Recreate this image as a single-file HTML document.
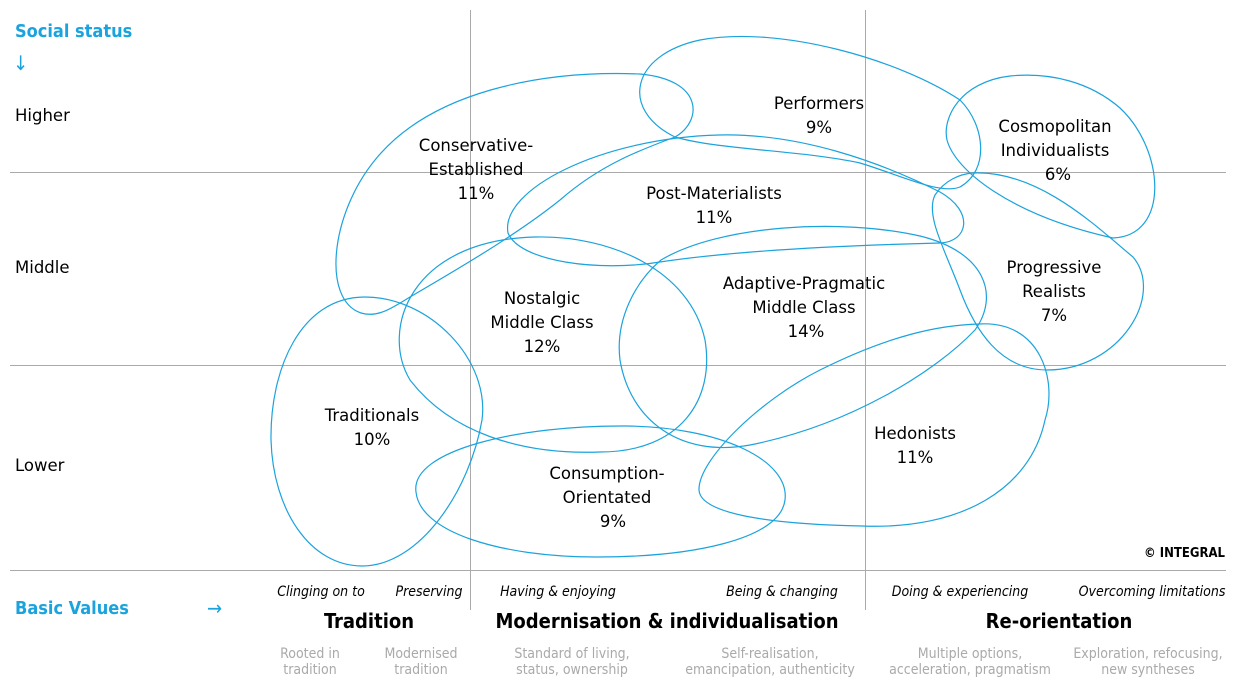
<!DOCTYPE html>
<html><head><meta charset="utf-8"><style>
html,body{margin:0;padding:0;background:#fff;}
svg{display:block;font-family:"DejaVu Sans Condensed","Liberation Sans",sans-serif;}
.n{font-family:"DejaVu Sans","Liberation Sans",sans-serif;}
</style></head><body>
<svg width="1256" height="682" viewBox="0 0 1256 682" xmlns="http://www.w3.org/2000/svg">
<g stroke="#aaa" stroke-width="1">
<line x1="10" y1="172.5" x2="1226" y2="172.5"/>
<line x1="10" y1="365.5" x2="1226" y2="365.5"/>
<line x1="10" y1="570.5" x2="1226" y2="570.5"/>
<line x1="470.5" y1="10" x2="470.5" y2="610"/>
<line x1="865.5" y1="10" x2="865.5" y2="610"/>
</g>
<g fill="none" stroke="#1ba3dd" stroke-width="1.2">
<path d="M675,137 C702,122 705,80 640,74 C540,70 430,92 375,160 C330,215 322,300 361,313 C378,318 392,308 410,297 C470,262 520,232 560,200 C600,165 640,150 675,137 Z"/>
<path d="M675,137 C620,110 630,55 700,40 C780,25 900,60 960,100 C985,125 990,170 960,187 C940,195 900,175 860,163 C800,150 720,150 675,137 Z"/>
<path d="M1113,238 C1170,236 1165,150 1120,108 C1090,82 1050,72 1010,76 C960,82 942,118 947,140 C955,170 1010,215 1113,238 Z"/>
<path d="M508,233 C500,190 600,138 719,135 C800,133 880,162 940,192 C975,212 968,242 940,243 C860,245 740,250 660,262 C600,272 520,262 508,233 Z"/>
<path d="M973,173 C1040,170 1100,230 1133,257 C1165,295 1120,370 1047,370 C1000,370 975,330 960,290 C945,250 925,215 935,195 C945,180 960,174 973,173 Z"/>
<path d="M661,260 C720,225 840,218 920,236 C985,252 1000,295 975,330 C935,372 850,425 750,445 C680,458 630,420 620,360 C615,320 635,282 661,260 Z"/>
<path d="M535,237 C610,235 690,270 705,340 C715,400 680,452 600,452 C520,455 450,432 410,380 C380,330 410,240 535,237 Z"/>
<path d="M365,297 C300,297 270,370 271,440 C273,510 310,566 362,566 C420,566 470,490 482,420 C490,360 430,297 365,297 Z"/>
<path d="M416,492 C410,450 520,425 627,426 C720,427 790,460 785,500 C780,540 690,557 597,557 C500,557 420,532 416,492 Z"/>
<path d="M979,324 C1040,320 1058,380 1045,420 C1030,490 960,530 862,526 C760,524 700,512 699,490 C698,460 760,400 820,370 C890,335 940,325 979,324 Z"/>
</g>
<g class="n" font-size="16.5" fill="#000" text-anchor="middle">
<text x="476" y="151">Conservative-</text><text x="476" y="175">Established</text><text x="476" y="199">11%</text>
<text x="819" y="109">Performers</text><text x="819" y="133">9%</text>
<text x="1055" y="132">Cosmopolitan</text><text x="1055" y="156">Individualists</text><text x="1058" y="180">6%</text>
<text x="714" y="199">Post-Materialists</text><text x="714" y="223">11%</text>
<text x="1054" y="273">Progressive</text><text x="1054" y="297">Realists</text><text x="1054" y="321">7%</text>
<text x="804" y="289">Adaptive-Pragmatic</text><text x="804" y="313">Middle Class</text><text x="806" y="337">14%</text>
<text x="542" y="304">Nostalgic</text><text x="542" y="328">Middle Class</text><text x="542" y="352">12%</text>
<text x="372" y="421">Traditionals</text><text x="372" y="445">10%</text>
<text x="607" y="479">Consumption-</text><text x="607" y="503">Orientated</text><text x="613" y="527">9%</text>
<text x="915" y="439">Hedonists</text><text x="915" y="463">11%</text>
</g>
<g class="n" font-size="16.5" fill="#000">
<text x="15" y="121">Higher</text><text x="15" y="273">Middle</text><text x="15" y="471">Lower</text>
</g>
<text x="15" y="37" font-size="18" font-weight="bold" fill="#1ba3dd">Social status</text>
<text x="13" y="70" font-size="20" fill="#1ba3dd">↓</text>
<text x="15" y="614" font-size="18" font-weight="bold" fill="#1ba3dd">Basic Values</text>
<text x="207" y="615" font-size="20" fill="#1ba3dd">→</text>
<text x="1225" y="557" font-size="13" font-weight="bold" text-anchor="end">© INTEGRAL</text>
<g font-size="14" font-style="italic" fill="#000" text-anchor="middle">
<text x="321" y="596">Clinging on to</text><text x="429" y="596">Preserving</text>
<text x="558" y="596">Having &amp; enjoying</text><text x="782" y="596">Being &amp; changing</text>
<text x="960" y="596">Doing &amp; experiencing</text><text x="1152" y="596">Overcoming limitations</text>
</g>
<g font-size="20" font-weight="bold" fill="#000" text-anchor="middle">
<text x="369" y="628">Tradition</text><text x="667" y="628">Modernisation &amp; individualisation</text><text x="1059" y="628">Re-orientation</text>
</g>
<g font-size="14" fill="#aaa" text-anchor="middle">
<text x="310" y="658">Rooted in</text><text x="310" y="674">tradition</text>
<text x="421" y="658">Modernised</text><text x="421" y="674">tradition</text>
<text x="572" y="658">Standard of living,</text><text x="572" y="674">status, ownership</text>
<text x="770" y="658">Self-realisation,</text><text x="770" y="674">emancipation, authenticity</text>
<text x="970" y="658">Multiple options,</text><text x="970" y="674">acceleration, pragmatism</text>
<text x="1148" y="658">Exploration, refocusing,</text><text x="1148" y="674">new syntheses</text>
</g>
</svg>
</body></html>
